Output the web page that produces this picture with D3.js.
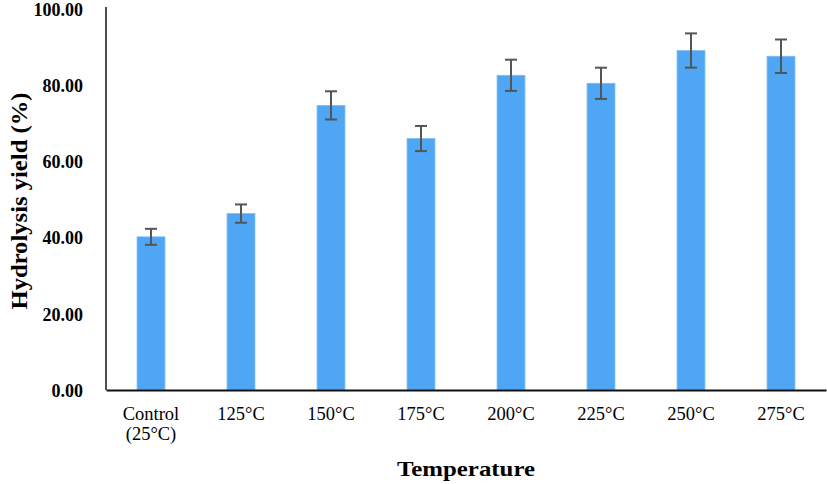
<!DOCTYPE html>
<html>
<head>
<meta charset="utf-8">
<script src="https://cdn.jsdelivr.net/npm/d3@7"></script>
<style>
  body { margin: 0; background: #fff; }
  text { font-family: "Liberation Serif", "Times New Roman", serif; fill: #000; }
</style>
</head>
<body>
<div id="chart"></div>
<script>
const categories = ["Control\n(25°C)", "125°C", "150°C", "175°C", "200°C", "225°C", "250°C", "275°C"]
const yieldValues = [40.2, 46.3, 74.7, 66.0, 82.6, 80.5, 89.1, 87.6]
const yieldErrors = [2.1, 2.4, 3.7, 3.3, 4.1, 4.1, 4.5, 4.4]
const yTicks = [0, 20, 40, 60, 80, 100]

const width = 827, height = 484
const margin = { top: 9, right: 1, bottom: 94, left: 106 }
const innerW = width - margin.left - margin.right
const innerH = height - margin.top - margin.bottom

const svg = d3.select("#chart").append("svg")
    .attr("width", width)
    .attr("height", height)

const g = svg.append("g")
    .attr("transform", "translate(" + margin.left + "," + margin.top + ")")

const x = d3.scaleBand()
    .domain(categories)
    .range([0, innerW])
    .paddingInner(0.69)
    .paddingOuter(0.345)

const y = d3.scaleLinear()
    .domain([0, 100])
    .range([innerH, 0])

// bars
g.append("g")
    .selectAll("rect")
    .data(categories)
    .enter().append("rect")
    .attr("x", d => x(d))
    .attr("y", (d, i) => y(yieldValues[i]))
    .attr("width", x.bandwidth())
    .attr("height", (d, i) => innerH - y(yieldValues[i]))
    .style("fill", "#4ea6f4")
    .style("stroke", "#7dbdf6")
    .style("stroke-width", 0.8)

// error bars
const capW = 12
const err = g.append("g")
    .selectAll("g")
    .data(categories)
    .enter().append("g")
    .attr("transform", d => "translate(" + (x(d) + x.bandwidth() / 2) + ",0)")
    .style("stroke", "#555")
    .style("stroke-width", 2)

err.append("line")
    .attr("y1", (d, i) => y(yieldValues[i] + yieldErrors[i]))
    .attr("y2", (d, i) => y(yieldValues[i] - yieldErrors[i]))
err.append("line")
    .attr("x1", -capW / 2).attr("x2", capW / 2)
    .attr("y1", (d, i) => y(yieldValues[i] + yieldErrors[i]))
    .attr("y2", (d, i) => y(yieldValues[i] + yieldErrors[i]))
err.append("line")
    .attr("x1", -capW / 2).attr("x2", capW / 2)
    .attr("y1", (d, i) => y(yieldValues[i] - yieldErrors[i]))
    .attr("y2", (d, i) => y(yieldValues[i] - yieldErrors[i]))

// y axis
const yAxis = g.append("g")
    .call(d3.axisLeft(y).tickValues(yTicks).tickSize(0).tickPadding(23).tickFormat(d3.format(".2f")))
yAxis.select(".domain").attr("stroke", "#222").attr("stroke-width", 1.6).attr("d", "M0," + (y(100) - 2) + "V" + innerH)
yAxis.selectAll("text")
    .style("font-size", "18px")
    .style("font-weight", "bold")
    .attr("dy", "0.35em")

// x axis
const xAxis = g.append("g")
    .attr("transform", "translate(0," + innerH + ")")
    .call(d3.axisBottom(x).tickSize(0).tickFormat(""))
xAxis.select(".domain").attr("stroke", "#111").attr("stroke-width", 2.2)

xAxis.selectAll(".tick").each(function (d) {
    const t = d3.select(this).append("text")
        .attr("text-anchor", "middle")
        .style("font-size", "18.5px")
    d.split("\n").forEach(function (line, k) {
        t.append("tspan")
            .attr("x", 0)
            .attr("y", 30 + k * 20)
            .text(line)
    })
})

// axis titles
svg.append("text")
    .attr("x", 466)
    .attr("y", 476)
    .attr("text-anchor", "middle")
    .style("font-size", "22px")
    .style("font-weight", "bold")
    .attr("textLength", 138)
    .attr("lengthAdjust", "spacingAndGlyphs")
    .text("Temperature")

svg.append("text")
    .attr("transform", "translate(27," + 201 + ") rotate(-90)")
    .attr("text-anchor", "middle")
    .style("font-size", "23px")
    .style("font-weight", "bold")
    .attr("textLength", 217)
    .attr("lengthAdjust", "spacingAndGlyphs")
    .text("Hydrolysis yield (%)")
</script>
</body>
</html>
